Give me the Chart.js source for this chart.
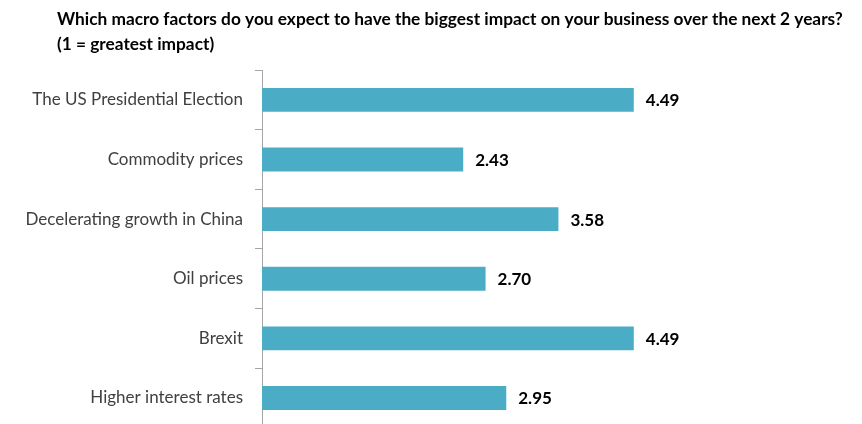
<!DOCTYPE html>
<html>
<head>
  <title>Macro factors</title>
<script src="https://cdn.jsdelivr.net/npm/chart.js"></script>
<style>
html, body { margin: 0; padding: 0; overflow: hidden; background: #fff; }
#wrap { width: 862px; height: 450px; }
</style>
</head>
<body>
<div id="wrap">
  <canvas id="myChart"></canvas>
</div>
<script>
const titleLines = [
  'Which macro factors do you expect to have the biggest impact on your business over the next 2 years?',
  '(1 = greatest impact)'
];
const labels = [
  'The US Presidential Election',
  'Commodity prices',
  'Decelerating growth in China',
  'Oil prices',
  'Brexit',
  'Higher interest rates'
];
const scores = [4.49, 2.43, 3.58, 2.70, 4.49, 2.95];

const barColor = '#4BACC6';

// title drawn at a fixed spot, like the source slide
const titlePlugin = {
  id: 'slideTitle',
  afterDraw(chart) {
    const ctx = chart.ctx;
    ctx.save();
    ctx.fillStyle = '#000';
    ctx.font = 'bold 17.3px Lato';
    ctx.textBaseline = 'middle';
    ctx.textAlign = 'left';
    ctx.fillText(titleLines[0], 57, 19);
    ctx.fillText(titleLines[1], 57, 44);
    ctx.restore();
  }
};

// value labels at the end of each bar
const valuePlugin = {
  id: 'valueLabels',
  afterDatasetsDraw(chart) {
    const ctx = chart.ctx;
    const meta = chart.getDatasetMeta(0);
    ctx.save();
    ctx.fillStyle = '#000';
    ctx.font = 'bold 17px Lato';
    ctx.textBaseline = 'middle';
    ctx.textAlign = 'left';
    meta.data.forEach((bar, i) => {
      ctx.fillText(scores[i].toFixed(2), bar.x + 12, bar.y + 1);
    });
    ctx.restore();
  }
};

const config = {
  type: 'bar',
  data: {
    labels: labels,
    datasets: [{
      data: scores,
      backgroundColor: barColor,
      borderWidth: 0,
      categoryPercentage: 0.4,
      barPercentage: 1.0
    }]
  },
  options: {
    indexAxis: 'y',
    responsive: true,
    maintainAspectRatio: false,
    animation: false,
    layout: {
      padding: { top: 70, right: 186, bottom: 2, left: 0 }
    },
    plugins: {
      legend: { display: false },
      title: { display: false },
      tooltip: { enabled: false }
    },
    scales: {
      x: {
        display: false,
        min: 0,
        max: 5
      },
      y: {
        afterFit(scale) { scale.width = 262; },
        border: { display: true, color: '#a6a6a6', width: 1 },
        grid: {
          offset: true,
          drawOnChartArea: false,
          drawTicks: true,
          tickLength: 7,
          color: '#a6a6a6'
        },
        ticks: {
          color: '#404040',
          font: { family: 'Lato', size: 17 },
          padding: 12
        }
      }
    }
  },
  plugins: [titlePlugin, valuePlugin]
};

const myChart = new Chart(document.getElementById('myChart'), config);
</script>
</body>
</html>
